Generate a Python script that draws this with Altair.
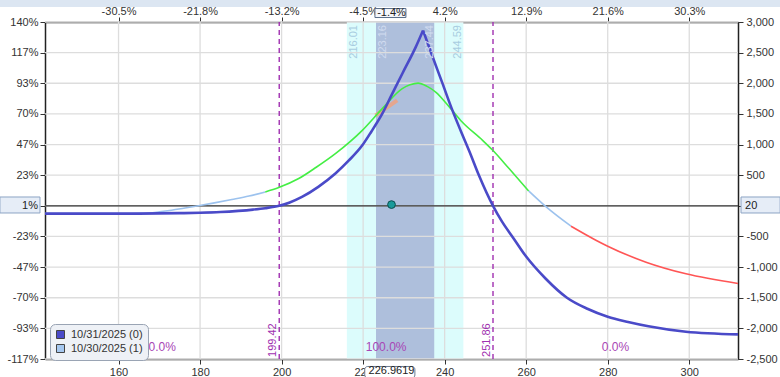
import json
import altair as alt
import pandas as pd

FONT = "Liberation Sans"

# ---------------- data ----------------
x_ticks = [160, 180, 200, 220, 240, 260, 280, 300]
top_tick_labels = ["-30.5%", "-21.8%", "-13.2%", "-4.5%", "4.2%", "12.9%", "21.6%", "30.3%"]
y_ticks = [3000, 2500, 2000, 1500, 1000, 500, 0, -500, -1000, -1500, -2000, -2500]
left_tick_labels = ["140%", "117%", "93%", "70%", "47%", "23%", "1%", "-23%", "-47%", "-70%", "-93%", "-117%"]
right_tick_labels = ["3,000", "2,500", "2,000", "1,500", "1,000", "500", "20", "-500", "-1,000", "-1,500", "-2,000", "-2,500"]

# expiration curve 10/31/2025 (0)
exp_price = [141.96, 165, 175, 180, 185, 189.4, 193, 196.0, 199.42, 202, 205.0, 209.0, 213.2, 216.5,
             219.8, 222.0, 224.7, 227.0, 229.6, 232.9, 234.7, 237.0, 239.4, 241.74, 244.6, 246.0,
             248.4, 251.86, 254.0, 257.0, 259.9, 264.8, 270.0, 275.0, 280.0, 285.0, 290.0, 299.2, 311.96]
exp_pl = [-128, -127, -120, -114, -102, -83, -62, -39, 0, 55, 145, 310, 527, 740,
          988, 1210, 1504, 1810, 2156, 2590, 2862, 2440, 2010, 1586, 1120, 900,
          499, 0, -250, -540, -820, -1190, -1500, -1680, -1810, -1895, -1965, -2055, -2098]
exp_peak = 234.7

# T+1 curve 10/30/2025 (1)
t1_price = [141.96, 160, 165, 167.3, 170, 173, 176, 179.6, 183.5, 187.8, 192, 196.0, 199.3, 204.2,
            208.5, 213.2, 219.8, 224.7, 229.6, 231.5, 233.5, 235.7, 237.8, 241.5, 244.3, 249.3,
            251.8, 255.8, 260.6, 264.9, 271.0, 277.1, 280.0, 289.4, 299.2, 311.96]
t1_pl = [-128, -127, -122, -116, -98, -72, -40, 0, 48, 103, 160, 227, 298, 445,
         630, 852, 1232, 1586, 1912, 1975, 2003, 1950, 1857, 1586, 1368, 1069,
         906, 608, 243, -18, -333, -561, -659, -920, -1110, -1267]
t1_breaks = [141.96, 196.0, 260.6, 271.0, 311.96]
t1_colors = ["#9cc2ee", "#44ee44", "#9cc2ee", "#ff5555"]

breakevens = [199.42, 251.86]
outer_band = [216.01, 244.59]
inner_band = [223.16, 237.44]
prob_labels = ["0.0%", "100.0%", "0.0%"]
prob_x = [170.7, 225.64, 281.9]
current_price = 226.9619
current_pl = 20
current_pct = "-1.4%"
tangent_price = [223.05, 228.35]
tangent_pl = [1477, 1721]
legend_names = ["10/31/2025 (0)", "10/30/2025 (1)"]
legend_colors = ["#4a4ac8", "#a6c8f0"]

X_DOM = [141.96, 311.96]
Y_DOM = [-2500, 3000]

W, H = 693, 337
PAD = {"left": 45, "top": 22, "right": 42, "bottom": 18}


def xs():
    return alt.Scale(domain=X_DOM, nice=False, zero=False)


def ys():
    return alt.Scale(domain=Y_DOM, nice=False, zero=False)


def X(f, axis=None):
    return alt.X(f, type="quantitative", scale=xs(), axis=axis)


def Y(f, axis=None):
    return alt.Y(f, type="quantitative", scale=ys(), axis=axis)


axis_common = dict(grid=False, title=None, domainColor="#222", domainWidth=1.5,
                   tickColor="#333", tickSize=5, tickWidth=1, labelFontSize=11,
                   labelColor="#333", labelFont=FONT, zindex=0)

bottom_axis = alt.Axis(orient="bottom", values=x_ticks, format="d", labelPadding=2, **axis_common)
top_axis = alt.Axis(orient="top", values=x_ticks, labelPadding=1,
                    labelExpr=json.dumps(top_tick_labels) + "[round((datum.value-160)/20)]",
                    **axis_common)
left_axis_labels = ["" if v == 0 else l for v, l in zip(y_ticks, left_tick_labels)]
right_axis_labels = ["" if v == 0 else l for v, l in zip(y_ticks, right_tick_labels)]
left_axis = alt.Axis(orient="left", values=y_ticks, labelPadding=2,
                     labelExpr=json.dumps(left_axis_labels) + "[round((3000-datum.value)/500)]",
                     **axis_common)
right_axis = alt.Axis(orient="right", values=y_ticks, labelPadding=3,
                      labelExpr=json.dumps(right_axis_labels) + "[round((3000-datum.value)/500)]",
                      **axis_common)

layers = []

# top light strip
strip = pd.DataFrame({"x": [130.9], "x2": [322.3], "y": [3359], "y2": [3244]})
layers.append(alt.Chart(strip).mark_rect(color="#dce6f2", clip=False).encode(
    x=X("x"), x2="x2", y=Y("y"), y2="y2"))

# bands
for band, col in [(outer_band, "#dcfcfc"), (inner_band, "#aebfdc")]:
    bdf = pd.DataFrame({"x": [band[0]], "x2": [band[1]], "y": [Y_DOM[0]], "y2": [Y_DOM[1]]})
    layers.append(alt.Chart(bdf).mark_rect(color=col).encode(x=X("x"), x2="x2", y=Y("y"), y2="y2"))

# grid + axes
vg = pd.DataFrame({"v": x_ticks, "lo": Y_DOM[0], "hi": Y_DOM[1]})
layers.append(alt.Chart(vg).mark_rule(color="#dddddd", strokeWidth=1.3).encode(
    x=X("v", bottom_axis), y=Y("lo", left_axis), y2="hi"))
hg = pd.DataFrame({"v": y_ticks, "lo": X_DOM[0], "hi": X_DOM[1]})
layers.append(alt.Chart(hg).mark_rule(color="#dddddd", strokeWidth=1.3).encode(
    y=Y("v", right_axis), x=X("lo", top_axis), x2="hi"))

# zero line
zl = pd.DataFrame({"v": [0], "lo": [X_DOM[0]], "hi": [X_DOM[1]]})
layers.append(alt.Chart(zl).mark_rule(color="#333333", strokeWidth=1.2).encode(
    y=Y("v"), x=X("lo"), x2="hi"))

# breakeven dashed lines
be = pd.DataFrame({"v": breakevens, "lo": Y_DOM[0], "hi": Y_DOM[1]})
layers.append(alt.Chart(be).mark_rule(color="#a030b0", strokeWidth=1.4, strokeDash=[5, 4]).encode(
    x=X("v"), y=Y("lo"), y2="hi"))

# tangent marker
tg = pd.DataFrame({"p": tangent_price, "v": tangent_pl})
layers.append(alt.Chart(tg).mark_line(color="#f2a07c", strokeWidth=4, opacity=0.8).encode(
    x=X("p"), y=Y("v")))

# T+1 curve segments
t1 = pd.DataFrame({"p": t1_price, "v": t1_pl})
for i, col in enumerate(t1_colors):
    lo, hi = t1_breaks[i], t1_breaks[i + 1]
    seg = t1[(t1.p >= lo) & (t1.p <= hi)]
    layers.append(alt.Chart(seg).mark_line(color=col, strokeWidth=1.6, interpolate="monotone").encode(
        x=X("p"), y=Y("v"), order="p:Q"))

# expiration curve (sharp peak: two smooth halves)
ex = pd.DataFrame({"p": exp_price, "v": exp_pl})
for part in (ex[ex.p <= exp_peak], ex[ex.p >= exp_peak]):
    layers.append(alt.Chart(part).mark_line(color="#4a4ac8", strokeWidth=2.6, interpolate="monotone").encode(
        x=X("p"), y=Y("v"), order="p:Q"))

# current price dot
dot = pd.DataFrame({"p": [current_price], "v": [current_pl]})
layers.append(alt.Chart(dot).mark_point(filled=True, size=60, color="#1a9a9a", stroke="#0b4f4f",
                                        strokeWidth=1, opacity=1).encode(x=X("p"), y=Y("v")))

# band edge labels (rotated)
band_labels = [(outer_band[0], 7, "#a8cce0"), (inner_band[0], 7, "#d0dbef"),
               (inner_band[1], -4, "#d0dbef"), (outer_band[1], -5, "#a8cce0")]
for val, off, col in band_labels:
    d = pd.DataFrame({"p": [val], "v": [2951], "t": [f"{val:.2f}"]})
    layers.append(alt.Chart(d).mark_text(angle=270, align="right", baseline="middle", dy=off,
                                         fontSize=11, font=FONT, color=col).encode(
        x=X("p"), y=Y("v"), text="t:N"))

# breakeven labels (rotated)
for val in breakevens:
    d = pd.DataFrame({"p": [val], "v": [-2467], "t": [f"{val:.2f}"]})
    layers.append(alt.Chart(d).mark_text(angle=270, align="left", baseline="middle", dy=-6,
                                         fontSize=11, font=FONT, color="#a030b0").encode(
        x=X("p"), y=Y("v"), text="t:N"))

# probability labels
pr = pd.DataFrame({"p": prob_x, "v": -2304, "t": prob_labels})
layers.append(alt.Chart(pr).mark_text(fontSize=12, font=FONT, color="#a845b5", baseline="middle").encode(
    x=X("p"), y=Y("v"), text="t:N"))

# boxes outside the plot (crosshair readouts)
boxes = pd.DataFrame({
    "x": [130.9, 312.7, 222.9, 220.4],
    "x2": [140.73, 322.3, 230.5, 232.7],
    "y": [144, 144, 3220, -2622],
    "y2": [-117, -117, 3073, -2810],
})
layers.append(alt.Chart(boxes.iloc[:2]).mark_rect(fill="#e6edf7", stroke="#8da4c4", strokeWidth=1,
                                                  clip=False).encode(x=X("x"), x2="x2", y=Y("y"), y2="y2"))
layers.append(alt.Chart(boxes.iloc[2:3]).mark_rect(fill="#f4f6fa", stroke="#5a6e8a", strokeWidth=1,
                                                   clip=False).encode(x=X("x"), x2="x2", y=Y("y"), y2="y2"))
layers.append(alt.Chart(boxes.iloc[3:4]).mark_rect(fill="#ffffff", stroke="#6a7a90", strokeWidth=1,
                                                   cornerRadius=3, clip=False).encode(
    x=X("x"), x2="x2", y=Y("y"), y2="y2"))

box_text = pd.DataFrame({
    "x": [140.24, 313.68, current_price, current_price],
    "y": [0, 0, 3147, -2704],
    "t": [left_tick_labels[6], right_tick_labels[6], current_pct, f"{current_price:.4f}"],
    "a": ["right", "left", "center", "center"],
})
for i in range(4):
    r = box_text.iloc[i:i + 1]
    layers.append(alt.Chart(r).mark_text(fontSize=11, font=FONT, color="#222", align=r["a"].iloc[0],
                                         baseline="middle", clip=False).encode(
        x=X("x"), y=Y("y"), text="t:N"))

# legend carrier
lg = pd.DataFrame({"name": legend_names, "p": [150, 150], "v": [0, 0]})
layers.append(alt.Chart(lg).mark_square(opacity=0, size=10).encode(
    x=X("p"), y=Y("v"),
    color=alt.Color("name:N", scale=alt.Scale(domain=legend_names, range=legend_colors),
                    legend=alt.Legend(title=None, orient="none", legendX=5, legendY=302,
                                      fillColor="#eef1f6", strokeColor="#9aa4b4", cornerRadius=5,
                                      padding=5, labelFontSize=11, labelFont=FONT, labelColor="#333",
                                      symbolType="square", symbolSize=64, symbolOpacity=1,
                                      symbolStrokeColor="#444", symbolStrokeWidth=1, rowPadding=1,
                                      labelOffset=5))))

chart = alt.layer(*layers).resolve_axis(x="independent", y="independent").properties(
    width=W, height=H, padding=PAD, autosize=alt.AutoSizeParams(type="none"),
    background="white",
).configure_view(stroke=None).configure(font=FONT)

chart.save("out.html", embed_options={"renderer": "svg", "actions": False})
